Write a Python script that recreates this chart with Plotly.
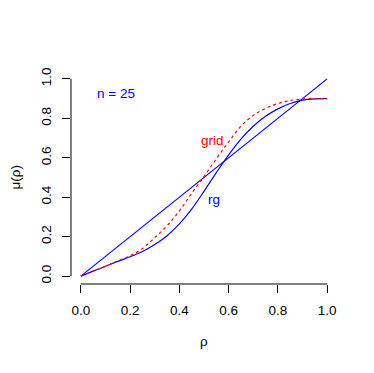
import plotly.graph_objects as go

# data
rho = [0.0, 0.05, 0.1, 0.15, 0.2, 0.25, 0.3, 0.35, 0.4, 0.45, 0.5,
       0.55, 0.6, 0.65, 0.7, 0.75, 0.8, 0.85, 0.9, 0.95, 1.0]
mu_rg = [0.0, 0.025, 0.05, 0.075, 0.098, 0.125, 0.16, 0.205, 0.265, 0.34, 0.43,
         0.525, 0.615, 0.695, 0.76, 0.81, 0.848, 0.875, 0.892, 0.899, 0.9]
mu_grid = [0.0, 0.025, 0.05, 0.077, 0.103, 0.14, 0.195, 0.255, 0.33, 0.42, 0.505,
           0.595, 0.68, 0.76, 0.815, 0.85, 0.875, 0.89, 0.898, 0.9, 0.9]
diag_x = [0.0, 1.0]
diag_y = [0.0, 1.0]
tick_vals = [0.0, 0.2, 0.4, 0.6, 0.8, 1.0]
tick_text = ["0.0", "0.2", "0.4", "0.6", "0.8", "1.0"]

FONT = "Liberation Sans, Arial, sans-serif"
FS = 13.5

fig = go.Figure()
fig.add_trace(go.Scatter(x=diag_x, y=diag_y, mode="lines",
                         line=dict(color="#0000FF", width=1.2)))
fig.add_trace(go.Scatter(x=rho, y=mu_rg, mode="lines", line_shape="spline",
                         line=dict(color="#0000FF", width=1.2)))
fig.add_trace(go.Scatter(x=rho, y=mu_grid, mode="lines", line_shape="spline",
                         line=dict(color="#FF0000", width=1.2, dash="dot")))

fig.add_annotation(x=0.1415, y=0.927, text="n = 25", showarrow=False,
                   font=dict(color="#0000FF", size=FS, family=FONT))
fig.add_annotation(x=0.534, y=0.69, text="grid", showarrow=False,
                   font=dict(color="#FF0000", size=FS, family=FONT))
fig.add_annotation(x=0.541, y=0.389, text="rg", showarrow=False,
                   font=dict(color="#0000FF", size=FS, family=FONT))

# axis titles
fig.add_annotation(xref="paper", yref="y", x=0, y=0.5, xshift=-56,
                   text="μ(ρ)", textangle=-90, showarrow=False,
                   xanchor="center", yanchor="middle",
                   font=dict(color="black", size=FS, family=FONT))
fig.add_annotation(xref="x", yref="paper", x=0.5, y=0, yshift=-57,
                   text="ρ", showarrow=False, xanchor="center", yanchor="middle",
                   font=dict(color="black", size=FS, family=FONT))

# R-style axis lines spanning only 0..1
fig.add_shape(type="line", xref="x", yref="paper", x0=0, x1=1, y0=0, y1=0,
              line=dict(color="black", width=1))
fig.add_shape(type="line", xref="paper", yref="y", x0=0, x1=0, y0=0, y1=1,
              line=dict(color="black", width=1))

fig.update_xaxes(range=[-0.04, 1.04], tickvals=tick_vals, ticktext=tick_text,
                 ticks="outside", ticklen=8, tickcolor="black", tickwidth=1,
                 showgrid=False, zeroline=False, showline=False,
                 ticklabelstandoff=6, automargin=False,
                 tickfont=dict(size=FS, family=FONT, color="black"))
fig.update_yaxes(range=[-0.04, 1.04], tickvals=tick_vals, ticktext=tick_text,
                 ticks="outside", ticklen=8, tickcolor="black", tickwidth=1,
                 showgrid=False, zeroline=False, showline=False,
                 tickangle=-90, ticklabelstandoff=6, automargin=False,
                 tickfont=dict(size=FS, family=FONT, color="black"))

# page body adds an 8px offset, so the figure is 8px smaller with shifted margins
fig.update_layout(width=366, height=365, showlegend=False,
                  margin=dict(l=63, r=37, t=63, b=89),
                  plot_bgcolor="white", paper_bgcolor="white")

fig.write_html("out.html")
